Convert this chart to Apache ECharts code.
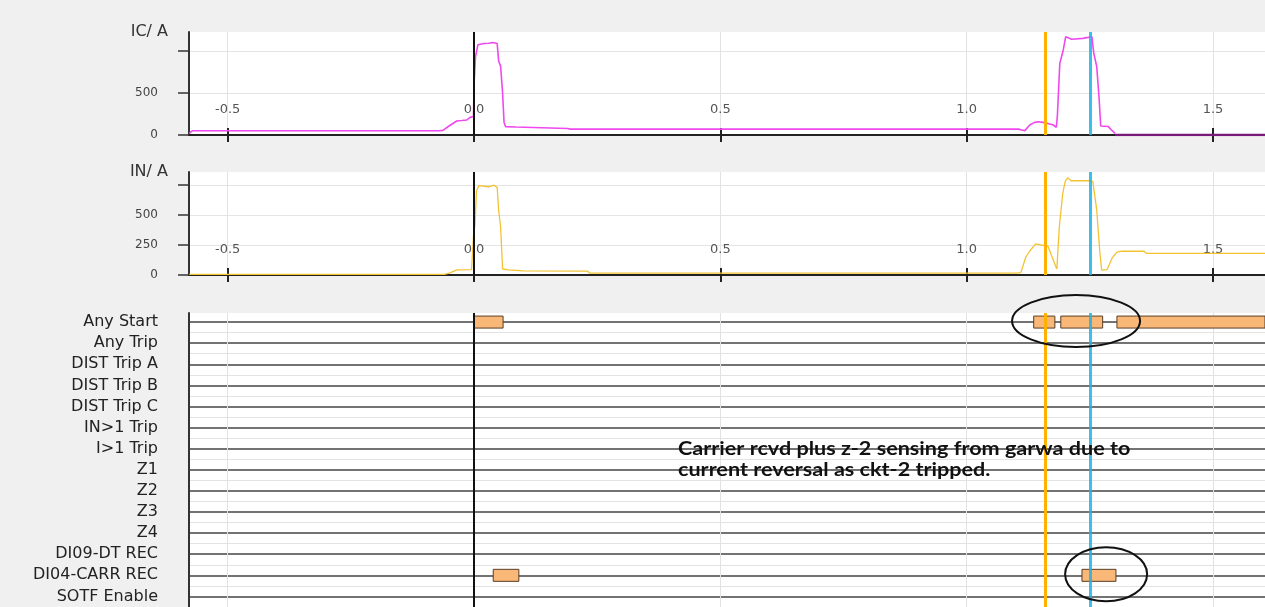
<!DOCTYPE html>
<html><head><meta charset="utf-8">
<script src="https://cdn.jsdelivr.net/npm/echarts@6/dist/echarts.min.js"></script>
<style>html,body{margin:0;padding:0;background:#f0f0f0;overflow:hidden;} #c{width:1265px;height:607px;}</style>
</head><body><div id="c"></div>
<script>
// ---- data ----
const xMin = -0.5785, xMax = 1.6055;
const xTicks = [-0.5, 0, 0.5, 1, 1.5];

const icTime = [-0.578,-0.572,-0.07,-0.063,-0.05,-0.035,-0.025,-0.015,-0.008,-0.001,0.0,0.003,0.008,0.012,0.02,0.03,0.038,0.042,0.047,0.05,0.054,0.058,0.061,0.064,0.085,0.088,0.19,0.195,1.105,1.112,1.118,1.128,1.138,1.145,1.155,1.163,1.176,1.182,1.184,1.189,1.196,1.201,1.213,1.236,1.254,1.258,1.264,1.269,1.272,1.287,1.294,1.301];
const icValue = [20,50,50,55,110,167,172,178,210,220,600,930,1075,1095,1090,1092,1100,1105,1090,880,820,500,150,100,95,80,78,70,70,60,52,120,150,158,150,139,119,92,218,853,1012,1170,1139,1150,1170,972,813,417,107,102,60,20];
const icTailTime = [1.301, 1.6055];
const icTailValue = [0, 0];

const inTime = [-0.578,-0.06,-0.05,-0.035,-0.005,-0.001,0.002,0.005,0.01,0.03,0.04,0.047,0.05,0.054,0.058,0.07,0.1,0.23,0.235,1.1,1.11,1.12,1.128,1.14,1.15,1.165,1.178,1.183,1.188,1.195,1.2,1.205,1.212,1.25,1.256,1.264,1.27,1.274,1.285,1.295,1.305,1.315,1.36,1.365,1.6055];
const inValue = [5,5,15,42,45,330,420,700,745,735,748,730,540,400,50,42,35,33,15,15,20,150,200,260,250,240,100,50,400,680,780,810,785,785,780,540,200,40,45,140,190,198,198,180,180];

const icTicks = [0, 500, 1000], icLabels = [0, 500];
const inTicks = [0, 250, 500, 750], inLabels = [0, 250, 500];

const channels = ["Any Start","Any Trip","DIST Trip A","DIST Trip B","DIST Trip C","IN>1 Trip","I>1 Trip","Z1","Z2","Z3","Z4","DI09-DT REC","DI04-CARR REC","SOTF Enable"];
const barChannel = [0, 0, 0, 0, 12, 12];
const barStart   = [0.0, 1.136, 1.191, 1.305, 0.039, 1.234];
const barEnd     = [0.059, 1.179, 1.276, 1.6055, 0.091, 1.303];

const cursorOrange = 1.156, cursorCyan = 1.2486;

const noteLines = ["Carrier rcvd plus z-2 sensing from garwa due to", "current reversal as ckt-2 tripped."];
const noteTime = 0.414, noteRows = [6, 7];
const circleTime = [1.222, 1.283], circleRow = [-0.05, 11.95];

// ---- build ----
const FF = 'DejaVu Sans';
const zip = (a, b) => a.map((v, i) => [v, b[i]]);
const rowIdx = channels.map((_, i) => i);
const halfIdx = channels.map((_, i) => i + 0.5);

const vLines = {
  symbol: ['none', 'none'], silent: true, animation: false,
  label: {show: false}, emphasis: {disabled: true},
  data: [
    {xAxis: 0, lineStyle: {color: '#111', width: 2, type: 'solid'}},
    {xAxis: cursorOrange, lineStyle: {color: '#FFB000', width: 3, type: 'solid'}},
    {xAxis: cursorCyan, lineStyle: {color: '#1CB3E8', width: 3, type: 'solid', opacity: 0.85}}
  ]
};

function mainX(g) {
  return {type: 'value', gridIndex: g, min: xMin, max: xMax, position: 'bottom',
    axisLine: {show: true, onZero: false, lineStyle: {color: '#222', width: 2}},
    axisTick: {show: true, customValues: xTicks, length: 7, lineStyle: {color: '#222', width: 2}},
    axisLabel: {show: true, inside: true, customValues: xTicks, margin: 19, formatter: v => v.toFixed(1),
      color: '#555', fontSize: 13, fontFamily: FF},
    splitLine: {show: true, lineStyle: {color: '#e2e2e2', width: 1}}};
}
function innerX(g) {
  return {type: 'value', gridIndex: g, min: xMin, max: xMax, position: 'bottom',
    axisLine: {show: false}, axisLabel: {show: false}, splitLine: {show: false},
    axisTick: {show: true, inside: true, customValues: xTicks, length: 7, lineStyle: {color: '#222', width: 2}}};
}
function ampY(g, name, max, ticks, labels) {
  return {type: 'value', gridIndex: g, min: 0, max: max, position: 'left',
    name: name, nameLocation: 'end', nameGap: 0, nameMoveOverlap: false,
    nameTextStyle: {align: 'right', verticalAlign: 'middle', padding: [0, 21, 0, 0], fontSize: 16, color: '#333', fontFamily: FF},
    axisLine: {show: true, onZero: false, lineStyle: {color: '#333', width: 2}},
    axisTick: {show: true, customValues: ticks, length: 11, lineStyle: {color: '#333', width: 1.5}},
    axisLabel: {customValues: labels, margin: 31, fontSize: 12, color: '#444', fontFamily: FF},
    splitLine: {show: true, lineStyle: {color: '#e4e4e4', width: 1}}};
}

const chart = echarts.init(document.getElementById('c'), null, {renderer: 'canvas'});
const option = {
  animation: false,
  backgroundColor: '#f0f0f0',
  grid: [
    {left: 189, right: 0, top: 32, height: 103, show: true, backgroundColor: '#fff', borderWidth: 0, outerBoundsMode: 'none'},
    {left: 189, right: 0, top: 172, height: 103, show: true, backgroundColor: '#fff', borderWidth: 0, outerBoundsMode: 'none'},
    {left: 189, right: 0, top: 313, height: 294, show: true, backgroundColor: '#fff', borderWidth: 0, outerBoundsMode: 'none'}
  ],
  xAxis: [
    mainX(0), innerX(0), mainX(1), innerX(1),
    {type: 'value', gridIndex: 2, min: xMin, max: xMax, position: 'bottom',
      axisLine: {show: false}, axisLabel: {show: false, customValues: xTicks},
      axisTick: {show: false, customValues: xTicks},
      splitLine: {show: true, lineStyle: {color: '#e2e2e2', width: 1}}}
  ],
  yAxis: [
    ampY(0, 'IC/ A', 1226, icTicks, icLabels),
    ampY(1, 'IN/ A', 858, inTicks, inLabels),
    {type: 'value', gridIndex: 2, inverse: true, min: -0.43, max: 13.5, position: 'left',
      axisLine: {show: true, onZero: false, lineStyle: {color: '#333', width: 2}},
      axisTick: {show: false, customValues: rowIdx},
      axisLabel: {customValues: rowIdx, formatter: v => channels[Math.round(v)], margin: 31, fontSize: 16, color: '#222', fontFamily: FF},
      splitLine: {show: true, lineStyle: {color: '#444', width: 1.5}}},
    {type: 'value', gridIndex: 2, inverse: true, min: -0.43, max: 13.5, position: 'left',
      axisLine: {show: false}, axisLabel: {show: false, customValues: halfIdx},
      axisTick: {show: false, customValues: halfIdx},
      splitLine: {show: true, lineStyle: {color: '#e3e3e3', width: 1}}}
  ],
  series: [
    {type: 'line', xAxisIndex: 0, yAxisIndex: 0, data: zip(icTime, icValue), showSymbol: false, silent: true,
      lineStyle: {color: '#EE48EE', width: 1.6}, markLine: vLines},
    {type: 'line', xAxisIndex: 0, yAxisIndex: 0, data: zip(icTailTime, icTailValue), showSymbol: false, silent: true,
      lineStyle: {color: '#7a1a7a', width: 2.5}, z: 3},
    {type: 'line', xAxisIndex: 2, yAxisIndex: 1, data: zip(inTime, inValue), showSymbol: false, silent: true,
      lineStyle: {color: '#F2C233', width: 1.3}, markLine: vLines},
    {type: 'custom', xAxisIndex: 4, yAxisIndex: 2, silent: true,
      data: barChannel.map((c, i) => [c, barStart[i], barEnd[i]]),
      encode: {x: [1, 2], y: 0},
      renderItem: function (params, api) {
        const row = api.value(0), s = api.value(1), e = api.value(2);
        const p1 = api.coord([s, row]), p2 = api.coord([e, row]);
        const h = 12;
        const cs = params.coordSys;
        const shape = echarts.graphic.clipRectByRect(
          {x: p1[0], y: p1[1] - h / 2, width: p2[0] - p1[0], height: h},
          {x: cs.x, y: cs.y, width: cs.width, height: cs.height});
        return shape && {type: 'rect', shape: shape, style: {fill: '#F9B878', stroke: '#5a3e25', lineWidth: 1}};
      },
      markLine: vLines}
  ]
};
chart.setOption(option);

// annotations positioned from data coordinates
const graphics = [];
noteLines.forEach((txt, i) => {
  const p = chart.convertToPixel({xAxisIndex: 4, yAxisIndex: 2}, [noteTime, noteRows[i]]);
  graphics.push({type: 'text', z: 100, silent: true, x: p[0], y: p[1], scaleX: 1.2,
    style: {text: txt, fill: '#111', fontFamily: 'Lato', fontWeight: 'bold', fontSize: 18, verticalAlign: 'middle', align: 'left'}});
});
const radii = [[64, 26], [41, 27]];
circleTime.forEach((t, i) => {
  const p = chart.convertToPixel({xAxisIndex: 4, yAxisIndex: 2}, [t, circleRow[i]]);
  graphics.push({type: 'ellipse', z: 100, silent: true,
    shape: {cx: p[0], cy: p[1], rx: radii[i][0], ry: radii[i][1]},
    style: {fill: null, stroke: '#111', lineWidth: 2}});
});
chart.setOption({graphic: graphics});
</script>
</body></html>
